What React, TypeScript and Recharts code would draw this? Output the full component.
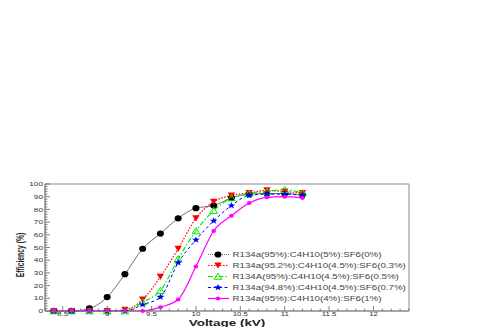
import React from "react";
import {
  LineChart,
  Line,
  XAxis,
  YAxis,
  Legend,
  ReferenceArea,
  Label,
} from "recharts";

// Scan points (kV) and efficiency (%) per gas mixture
const voltage = [8.4, 8.6, 8.8, 9.0, 9.2, 9.4, 9.6, 9.8, 10.0, 10.2, 10.4, 10.6, 10.8, 11.0, 11.2];
const effSF6_0 = [0, 0, 2, 11, 29, 49, 61, 73, 81, 83, 89, 92, 92.5, 92.5, 91.5];
const effSF6_03 = [0, 0, 0, 0, 1, 9, 27, 49, 73, 86, 91, 93, 95, 94, 93];
const effSF6_05 = [0, 0, 0, 0, 0, 7, 16, 41, 63, 79, 89, 92.5, 94, 95.5, 93];
const effSF6_07 = [0, 0, 0, 0, 0, 5, 11, 38, 56, 71, 83, 91, 92, 92, 91];
const effSF6_1 = [0, 0, 0, 0, 0, 0, 3, 9, 35, 63, 75, 85, 89.5, 90, 89];

const seriesNames = [
  "R134a(95%):C4H10(5%):SF6(0%)",
  "R134a(95.2%):C4H10(4.5%):SF6(0.3%)",
  "R134A(95%):C4H10(4.5%):SF6(0.5%)",
  "R134a(94.8%):C4H10(4.5%):SF6(0.7%)",
  "R134a(95%):C4H10(4%):SF6(1%)",
];

const xMajorTicks = [8.5, 9, 9.5, 10, 10.5, 11, 11.5, 12];
const yMajorTicks = [0, 10, 20, 30, 40, 50, 60, 70, 80, 90, 100];

const xTicks = Array.from({ length: 42 }, (_, i) => +(8.3 + i * 0.1).toFixed(1));
const yTicks = Array.from({ length: 51 }, (_, i) => i * 2);

const chartData = voltage.map((v, i) => ({
  v,
  s0: effSF6_0[i],
  s1: effSF6_03[i],
  s2: effSF6_05[i],
  s3: effSF6_07[i],
  s4: effSF6_1[i],
}));

const FONT = "'Liberation Sans', Arial, Helvetica, sans-serif";
const SX = 1.35; // reference text is stretched horizontally

// marker shapes
const star = (cx: number, cy: number, r: number) => {
  const pts: string[] = [];
  for (let k = 0; k < 10; k++) {
    const a = -Math.PI / 2 + (k * Math.PI) / 5;
    const rr = k % 2 === 0 ? r : r * 0.42;
    pts.push(`${cx + rr * 1.2 * Math.cos(a)},${cy + rr * Math.sin(a)}`);
  }
  return pts.join(" ");
};

const Marker = ({ kind, cx, cy }: { kind: number; cx: number; cy: number }) => {
  switch (kind) {
    case 0:
      return <ellipse cx={cx} cy={cy} rx={3.5} ry={3.1} fill="#000" />;
    case 1:
      return (
        <polygon
          points={`${cx - 3.7},${cy - 3} ${cx + 3.7},${cy - 3} ${cx},${cy + 3.2}`}
          fill="#ff0000"
        />
      );
    case 2:
      return (
        <polygon
          points={`${cx - 3.9},${cy + 2.8} ${cx + 3.9},${cy + 2.8} ${cx},${cy - 3.3}`}
          fill="none"
          stroke="#00ee00"
          strokeWidth={1}
        />
      );
    case 3:
      return <polygon points={star(cx, cy, 3.5)} fill="#0000ff" />;
    default:
      return <ellipse cx={cx} cy={cy} rx={2.3} ry={2} fill="#ff00ff" />;
  }
};

const styles = [
  { key: "s0", color: "#4a4a4a", dash: undefined, width: 0.8 },
  { key: "s1", color: "#ff0000", dash: "1.5 1.5", width: 1.2 },
  { key: "s2", color: "#00ee00", dash: "5 2 1.5 2", width: 1.2 },
  { key: "s3", color: "#0000ff", dash: "3 2.5", width: 1 },
  { key: "s4", color: "#ff00ff", dash: undefined, width: 1.2 },
];

const XTick = (props: any) => {
  const { x, y, payload } = props;
  const v = payload.value;
  const major = xMajorTicks.some((t) => Math.abs(t - v) < 1e-6);
  return (
    <g>
      <line x1={x} x2={x} y1={y} y2={y - (major ? 5 : 2.5)} stroke="#666" strokeWidth={0.8} />
      {major && (
        <text
          transform={`translate(${x},${y + 5}) scale(${SX},1)`}
          textAnchor="middle"
          fontSize={5.8}
          fontFamily={FONT}
          fill="#333"
        >
          {String(v)}
        </text>
      )}
    </g>
  );
};

const YTick = (props: any) => {
  const { x, y, payload } = props;
  const v = payload.value;
  const major = yMajorTicks.includes(v);
  return (
    <g>
      <line x1={x} x2={x + (major ? 5 : 2.5)} y1={y} y2={y} stroke="#666" strokeWidth={0.8} />
      {major && (
        <text
          transform={`translate(${x - 2},${y + 2.1}) scale(${SX},1)`}
          textAnchor="end"
          fontSize={6.1}
          fontFamily={FONT}
          fill="#333"
        >
          {String(v)}
        </text>
      )}
    </g>
  );
};

const LegendBox = () => (
  <svg width={210} height={58} style={{ overflow: "visible" }}>
    {seriesNames.map((name, i) => {
      const s = styles[i];
      const cy = 6.5 + i * 11;
      return (
        <g key={name}>
          <line
            x1={3}
            x2={24}
            y1={cy}
            y2={cy}
            stroke={s.color}
            strokeWidth={s.width}
            strokeDasharray={i === 0 ? "1 1" : s.dash}
          />
          <Marker kind={i} cx={13} cy={cy} />
          <text
            transform={`translate(27.5,${cy + 2.6}) scale(${SX},1)`}
            fontSize={7.2}
            fontFamily={FONT}
            fill="#444"
          >
            {name}
          </text>
        </g>
      );
    })}
  </svg>
);

export default function App() {
  return (
    <div style={{ position: "absolute", left: 0, top: 0 }}>
      <LineChart
        width={491}
        height={327}
        data={chartData}
        margin={{ top: 184, right: 82, left: 0, bottom: 0 }}
      >
        <XAxis
          dataKey="v"
          type="number"
          domain={[8.3, 12.4]}
          ticks={xTicks}
          interval={0}
          tickSize={0}
          tickMargin={0}
          height={16}
          axisLine={{ stroke: "#888" }}
          tickLine={false}
          tick={<XTick />}
        >
          <Label
            content={() => (
              <text
                transform={`translate(227,326.3) scale(1.46,1)`}
                textAnchor="middle"
                fontSize={9.2}
                fontWeight="bold"
                fontFamily={FONT}
                fill="#222"
              >
                Voltage (kV)
              </text>
            )}
          />
        </XAxis>
        <YAxis
          type="number"
          domain={[0, 100]}
          ticks={yTicks}
          interval={0}
          tickSize={0}
          tickMargin={0}
          width={45}
          axisLine={{ stroke: "#888" }}
          tickLine={false}
          tick={<YTick />}
        >
          <Label
            content={() => (
              <text
                transform={`translate(23.5,255) scale(1.5,1) rotate(-90)`}
                textAnchor="middle"
                fontSize={6.8}
                fontWeight="bold"
                fontFamily={FONT}
                fill="#222"
              >
                Efficiency (%)
              </text>
            )}
          />
        </YAxis>
        <ReferenceArea
          x1={8.3}
          x2={12.4}
          y1={0}
          y2={100}
          fill="none"
          stroke="#888"
          strokeWidth={1}
          ifOverflow="visible"
        />
        {styles.map((s, i) => (
          <Line
            key={s.key}
            dataKey={s.key}
            name={seriesNames[i]}
            type="monotone"
            stroke={s.color}
            strokeWidth={s.width}
            strokeDasharray={s.dash}
            isAnimationActive={false}
            dot={(p: any) => <Marker key={`${s.key}-${p.index}`} kind={i} cx={p.cx} cy={p.cy} />}
            activeDot={false}
          />
        ))}
        <Legend
          layout="vertical"
          align="center"
          verticalAlign="middle"
          content={() => <LegendBox />}
          wrapperStyle={{ left: 205, top: 248, width: 210, height: 58 }}
        />
      </LineChart>
    </div>
  );
}
